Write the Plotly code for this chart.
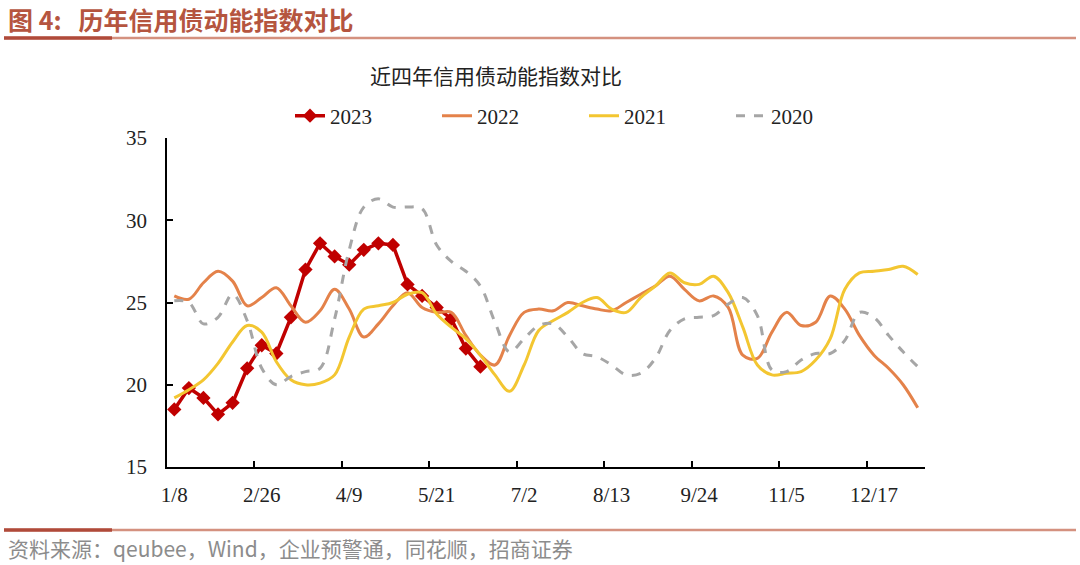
import plotly.graph_objects as go

# weekly categories (x axis)
weeks = ["1/8", "1/15", "1/29", "2/5", "2/12", "2/19", "2/26", "3/5", "3/12", "3/19",
         "3/26", "4/2", "4/9", "4/16", "4/23", "4/30", "5/7", "5/14", "5/21", "5/28",
         "6/4", "6/11", "6/18", "6/25", "7/2", "7/9", "7/16", "7/23", "7/30", "8/6",
         "8/13", "8/20", "8/27", "9/3", "9/10", "9/17", "9/24", "10/1", "10/8", "10/15",
         "10/22", "10/29", "11/5", "11/12", "11/19", "11/26", "12/3", "12/10", "12/17", "12/24",
         "12/31", "1/7"]
tick_idx = [0, 6, 12, 18, 24, 30, 36, 42, 48]

y2023 = [18.5, 19.8, 19.2, 18.2, 18.9, 21.0, 22.4, 21.9, 24.1, 27.0, 28.6, 27.8, 27.3,
         28.2, 28.6, 28.5, 26.1, 25.4, 24.7, 24.0, 22.2, 21.1]
y2022 = [25.4, 25.2, 26.2, 26.9, 26.3, 24.8, 25.3, 25.9, 24.8, 23.8, 24.5, 25.8, 24.6,
         22.9, 23.7, 24.8, 25.6, 24.7, 24.4, 24.4, 23.0, 21.8, 21.2, 23.0, 24.4, 24.6,
         24.5, 25.0, 24.8, 24.6, 24.5, 25.0, 25.5, 26.0, 26.6, 25.8, 25.1, 25.4, 24.7,
         21.8, 21.6, 23.2, 24.4, 23.6, 23.8, 25.4, 24.6, 23.0, 21.8, 21.0, 20.0, 18.6]
y2021 = [19.2, 19.7, 20.3, 21.3, 22.6, 23.6, 23.2, 21.4, 20.3, 20.0, 20.1, 20.6, 22.9,
         24.6, 24.8, 25.0, 25.5, 25.6, 24.3, 23.5, 22.8, 21.8, 20.6, 19.6, 21.2, 23.3,
         23.9, 24.4, 25.0, 25.3, 24.6, 24.4, 25.3, 26.0, 26.8, 26.2, 26.1, 26.6, 25.6,
         23.5, 21.2, 20.6, 20.7, 20.8, 21.5, 22.8, 25.8, 26.8, 26.9, 27.0, 27.2, 26.7]
y2020 = [25.1, 25.0, 23.7, 24.1, 25.5, 23.9, 21.0, 20.0, 20.5, 20.8, 21.0, 24.0, 28.2,
         30.8, 31.3, 30.8, 30.8, 30.7, 28.5, 27.5, 26.9, 26.0, 23.8, 22.0, 22.8, 23.6,
         23.7, 22.9, 21.9, 21.7, 21.2, 20.6, 20.7, 21.6, 23.3, 24.0, 24.1, 24.2, 24.9,
         25.3, 24.2, 20.9, 20.8, 21.5, 21.9, 21.9, 22.7, 24.4, 24.1, 23.0, 22.0, 21.1]

W, H = 1080, 565
L, R, T, B = 167, 925, 138, 467


def px(x):
    return (x - L) / (R - L)


def py(y):
    return (B - y) / (B - T)


xs = list(range(len(weeks)))
serif = "Liberation Serif, Times New Roman, serif"
cjk = "Noto Sans CJK SC, sans-serif"

fig = go.Figure()
fig.add_trace(go.Scatter(x=xs[:len(y2023)], y=y2023, name="2023", mode="lines+markers",
                         line=dict(color="#C00000", width=3.5),
                         marker=dict(symbol="diamond", size=11, color="#C00000")))
fig.add_trace(go.Scatter(x=xs, y=y2022, name="2022", mode="lines",
                         line=dict(color="#E4824A", width=3, shape="spline")))
fig.add_trace(go.Scatter(x=xs, y=y2021, name="2021", mode="lines",
                         line=dict(color="#F3C631", width=3, shape="spline")))
fig.add_trace(go.Scatter(x=xs, y=y2020, name="2020", mode="lines",
                         line=dict(color="#A6A6A6", width=3, dash="dash", shape="spline")))

fig.update_xaxes(range=[-0.5, len(weeks) - 0.5], showline=True, linecolor="black", linewidth=1.5,
                 tickmode="array", tickvals=tick_idx, ticktext=[weeks[i] for i in tick_idx],
                 ticks="", ticklabelstandoff=8,
                 minor=dict(tickmode="array", tickvals=[i - 0.5 for i in tick_idx[1:]],
                            ticks="inside", ticklen=6, tickwidth=1.5, tickcolor="black"),
                 showgrid=False, zeroline=False,
                 tickfont=dict(family=serif, size=21, color="#222"))
fig.update_yaxes(range=[15, 35], dtick=5, showline=True, linecolor="black", linewidth=1.5,
                 ticks="inside", ticklen=6, tickwidth=1.5, tickcolor="black",
                 ticklabelstandoff=14, showgrid=False, zeroline=False,
                 tickfont=dict(family=serif, size=21, color="#222"))

annotations = [
    dict(text="<b>图 4:&nbsp;&nbsp;&nbsp;历年信用债动能指数对比</b>", x=px(6), y=py(19), xanchor="left",
         yanchor="middle", font=dict(family=cjk, size=25, color="#B5553F")),
    dict(text="近四年信用债动能指数对比", x=px(496), y=py(75), xanchor="center",
         yanchor="middle", font=dict(family=cjk, size=21, color="#222")),
    dict(text="资料来源：qeubee，Wind，企业预警通，同花顺，招商证券", x=px(6), y=py(548),
         xanchor="left", yanchor="middle", font=dict(family=cjk, size=21, color="#8C8C8C")),
]
for a in annotations:
    a.update(xref="paper", yref="paper", showarrow=False)

shapes = [
    dict(type="line", x0=px(4), x1=px(1076), y0=py(38), y1=py(38),
         line=dict(color="#D4917F", width=2.5)),
    dict(type="line", x0=px(4), x1=px(112), y0=py(38), y1=py(38),
         line=dict(color="#B04A3A", width=3.5)),
    dict(type="line", x0=px(4), x1=px(1076), y0=py(530), y1=py(530),
         line=dict(color="#D4917F", width=2.5)),
    dict(type="line", x0=px(4), x1=px(112), y0=py(530), y1=py(530),
         line=dict(color="#B04A3A", width=3.5)),
]
for s in shapes:
    s.update(xref="paper", yref="paper")

fig.update_layout(
    width=W, height=H,
    margin=dict(l=L, r=W - R, t=T, b=H - B),
    paper_bgcolor="white", plot_bgcolor="white",
    showlegend=True,
    legend=dict(orientation="h", x=px(290), y=py(116), xanchor="left", yanchor="middle",
                entrywidth=102, entrywidthmode="pixels",
                font=dict(family=serif, size=21, color="#222"), bgcolor="rgba(0,0,0,0)"),
    annotations=annotations, shapes=shapes,
)

fig.write_html("out.html", config={"displayModeBar": False},
               post_script="document.body.style.margin='0';")
